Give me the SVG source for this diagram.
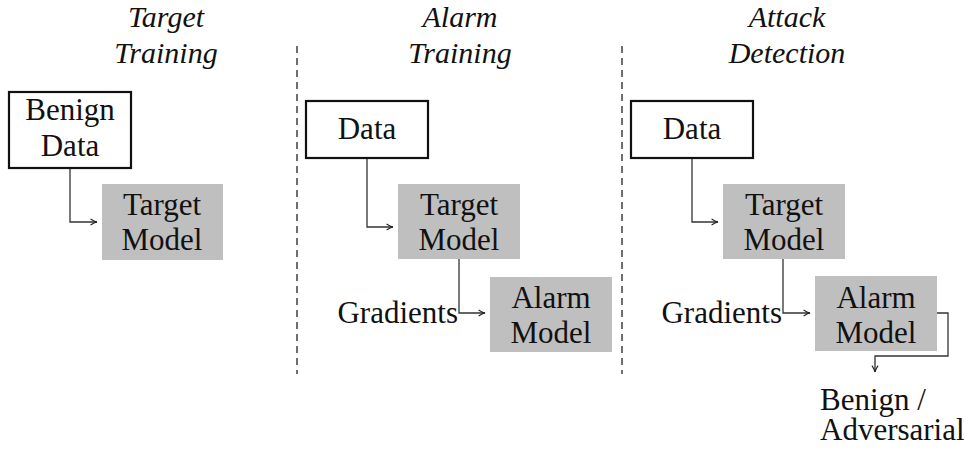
<svg xmlns="http://www.w3.org/2000/svg" width="964" height="452" viewBox="0 0 964 452">
  <defs>
    <style>
      .lbl { font-family: "Liberation Serif", "Times New Roman", "DejaVu Serif", serif; font-size: 31px; fill: #111; }
      .ttl { font-family: "Liberation Serif", "Times New Roman", "DejaVu Serif", serif; font-size: 30px; font-style: italic; fill: #111; }
      .data { fill: #ffffff; stroke: #111; stroke-width: 2.2; }
      .model { fill: #bfbfbf; stroke: none; }
      .sep { stroke: #333; stroke-width: 1.4; stroke-dasharray: 7 5; fill: none; }
      .conn { fill: none; stroke: #333; stroke-width: 1.3; marker-end: url(#arr); }
    </style>
    <marker id="arr" viewBox="0 0 10 10" refX="9" refY="5" markerWidth="8" markerHeight="8" markerUnits="userSpaceOnUse" orient="auto">
      <path d="M1,1.2 Q5.5,4.2 9,5 Q5.5,5.8 1,8.8" fill="none" stroke="#222" stroke-width="1.4"/>
    </marker>
  </defs>
  <rect width="964" height="452" fill="#ffffff"/>

  <!-- stage titles -->
  <g id="titles">
    <text class="ttl" x="166" y="27" text-anchor="middle">Target</text>
    <text class="ttl" x="166" y="63" text-anchor="middle">Training</text>
    <text class="ttl" x="460" y="27" text-anchor="middle">Alarm</text>
    <text class="ttl" x="460" y="63" text-anchor="middle">Training</text>
    <text class="ttl" x="787" y="27" text-anchor="middle">Attack</text>
    <text class="ttl" x="787" y="63" text-anchor="middle">Detection</text>
  </g>

  <!-- stage separators -->
  <g id="separators">
    <line class="sep" x1="297" y1="46" x2="297" y2="374"/>
    <line class="sep" x1="622" y1="46" x2="622" y2="374"/>
  </g>

  <!-- connectors -->
  <g id="connectors">
    <path class="conn" d="M70,168 V222 H97"/>
    <path class="conn" d="M367,158 V227 H393"/>
    <path class="conn" d="M459,259 V313 H485"/>
    <path class="conn" d="M692,158 V222 H718"/>
    <path class="conn" d="M783,259 V313 H810"/>
    <path class="conn" d="M937,313 H948 V356 H875 V372"/>
  </g>

  <!-- stage 1: target training -->
  <g id="benign-data">
    <rect class="data" x="9" y="92" width="122" height="76"/>
    <text class="lbl" x="70" y="120" text-anchor="middle">Benign</text>
    <text class="lbl" x="70" y="156" text-anchor="middle">Data</text>
  </g>
  <g id="target-model-1">
    <rect class="model" x="102" y="184" width="121" height="76"/>
    <text class="lbl" x="162" y="215" text-anchor="middle">Target</text>
    <text class="lbl" x="162" y="250" text-anchor="middle">Model</text>
  </g>

  <!-- stage 2: alarm training -->
  <g id="data-2">
    <rect class="data" x="306" y="101" width="122" height="57"/>
    <text class="lbl" x="367" y="139" text-anchor="middle">Data</text>
  </g>
  <g id="target-model-2">
    <rect class="model" x="398" y="184" width="122" height="75"/>
    <text class="lbl" x="459" y="215" text-anchor="middle">Target</text>
    <text class="lbl" x="459" y="250" text-anchor="middle">Model</text>
  </g>
  <g id="gradients-2">
    <text class="lbl" x="458" y="323" text-anchor="end">Gradients</text>
  </g>
  <g id="alarm-model-2">
    <rect class="model" x="490" y="277" width="122" height="75"/>
    <text class="lbl" x="551" y="308" text-anchor="middle">Alarm</text>
    <text class="lbl" x="551" y="343" text-anchor="middle">Model</text>
  </g>

  <!-- stage 3: attack detection -->
  <g id="data-3">
    <rect class="data" x="631" y="101" width="122" height="57"/>
    <text class="lbl" x="692" y="139" text-anchor="middle">Data</text>
  </g>
  <g id="target-model-3">
    <rect class="model" x="723" y="184" width="122" height="75"/>
    <text class="lbl" x="784" y="215" text-anchor="middle">Target</text>
    <text class="lbl" x="784" y="250" text-anchor="middle">Model</text>
  </g>
  <g id="gradients-3">
    <text class="lbl" x="782" y="323" text-anchor="end">Gradients</text>
  </g>
  <g id="alarm-model-3">
    <rect class="model" x="815" y="276" width="122" height="75"/>
    <text class="lbl" x="876" y="308" text-anchor="middle">Alarm</text>
    <text class="lbl" x="876" y="343" text-anchor="middle">Model</text>
  </g>
  <g id="verdict">
    <text class="lbl" x="820" y="410">Benign /</text>
    <text class="lbl" x="820" y="440">Adversarial</text>
  </g>
</svg>
